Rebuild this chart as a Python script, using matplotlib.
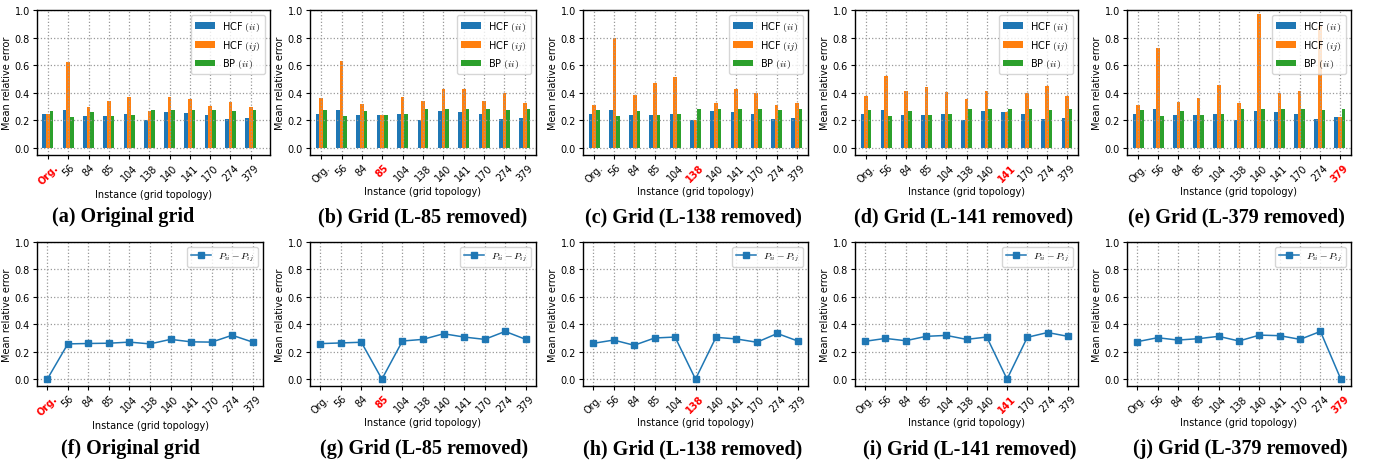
import matplotlib
matplotlib.use("Agg")
import matplotlib.pyplot as plt
import numpy as np

plt.rcParams['mathtext.fontset'] = 'cm'
plt.rcParams['font.family'] = ['DejaVu Sans']

categories = ["Org.", "56", "84", "85", "104", "138", "140", "141", "170", "274", "379"]

# Top row: bar panels (HCF ii, HCF ij, BP ii)
hcf_ii_a = [0.249, 0.278, 0.235, 0.235, 0.25, 0.206, 0.264, 0.257, 0.242, 0.213, 0.22]
hcf_ij_a = [0.25, 0.627, 0.298, 0.344, 0.37, 0.271, 0.37, 0.358, 0.307, 0.337, 0.298]
bp_ii_a = [0.271, 0.228, 0.264, 0.235, 0.24, 0.278, 0.278, 0.278, 0.278, 0.271, 0.278]

hcf_ii_b = [0.244, 0.273, 0.237, 0.237, 0.244, 0.201, 0.266, 0.258, 0.244, 0.208, 0.215]
hcf_ij_b = [0.366, 0.632, 0.316, 0.237, 0.373, 0.344, 0.43, 0.43, 0.344, 0.40, 0.323]
bp_ii_b = [0.273, 0.23, 0.266, 0.237, 0.244, 0.28, 0.28, 0.28, 0.28, 0.273, 0.28]

hcf_ii_c = [0.244, 0.273, 0.237, 0.237, 0.244, 0.201, 0.266, 0.258, 0.244, 0.208, 0.215]
hcf_ij_c = [0.309, 0.80, 0.388, 0.474, 0.517, 0.201, 0.33, 0.43, 0.40, 0.309, 0.323]
bp_ii_c = [0.273, 0.23, 0.266, 0.237, 0.244, 0.28, 0.28, 0.28, 0.28, 0.273, 0.28]

hcf_ii_d = [0.244, 0.273, 0.237, 0.237, 0.244, 0.201, 0.266, 0.258, 0.244, 0.208, 0.215]
hcf_ij_d = [0.38, 0.524, 0.416, 0.445, 0.409, 0.359, 0.416, 0.258, 0.40, 0.452, 0.38]
bp_ii_d = [0.273, 0.23, 0.266, 0.237, 0.244, 0.28, 0.28, 0.28, 0.28, 0.273, 0.28]

hcf_ii_e = [0.25, 0.28, 0.237, 0.237, 0.25, 0.201, 0.266, 0.258, 0.244, 0.208, 0.222]
hcf_ij_e = [0.309, 0.725, 0.335, 0.366, 0.459, 0.323, 0.974, 0.40, 0.416, 0.885, 0.222]
bp_ii_e = [0.273, 0.23, 0.266, 0.237, 0.244, 0.28, 0.28, 0.28, 0.28, 0.273, 0.28]

# Bottom row: line panels (P_ii - P_ij)
diff_f = [0.0, 0.257, 0.26, 0.262, 0.27, 0.257, 0.29, 0.272, 0.27, 0.32, 0.27]
diff_g = [0.259, 0.264, 0.269, 0.0, 0.278, 0.29, 0.331, 0.307, 0.29, 0.348, 0.29]
diff_h = [0.261, 0.285, 0.247, 0.30, 0.307, 0.0, 0.305, 0.293, 0.269, 0.333, 0.278]
diff_i = [0.276, 0.297, 0.28, 0.312, 0.319, 0.29, 0.307, 0.0, 0.305, 0.34, 0.312]
diff_j = [0.273, 0.302, 0.285, 0.295, 0.312, 0.278, 0.321, 0.317, 0.29, 0.348, 0.0]

bar_sets = [
    (hcf_ii_a, hcf_ij_a, bp_ii_a, "Org.", "(a) Original grid"),
    (hcf_ii_b, hcf_ij_b, bp_ii_b, "85", "(b) Grid (L-85 removed)"),
    (hcf_ii_c, hcf_ij_c, bp_ii_c, "138", "(c) Grid (L-138 removed)"),
    (hcf_ii_d, hcf_ij_d, bp_ii_d, "141", "(d) Grid (L-141 removed)"),
    (hcf_ii_e, hcf_ij_e, bp_ii_e, "379", "(e) Grid (L-379 removed)"),
]
line_sets = [
    (diff_f, "Org.", "(f) Original grid"),
    (diff_g, "85", "(g) Grid (L-85 removed)"),
    (diff_h, "138", "(h) Grid (L-138 removed)"),
    (diff_i, "141", "(i) Grid (L-141 removed)"),
    (diff_j, "379", "(j) Grid (L-379 removed)"),
]

W, H = 1377, 464
fig = plt.figure(figsize=(W / 100, H / 100), dpi=100)

top_lr = [(37, 270), (310, 536), (583, 808), (855, 1078), (1127, 1351)]
bot_lr = [(37, 263), (310, 536), (583, 808), (855, 1078), (1127, 1351)]
top_tb = (11, 156)
bot_tb = (243, 387)
top_xlim = [(-0.54, 10.95), (-0.55, 10.55), (-0.55, 10.55), (-0.55, 10.55), (-0.55, 10.55)]
cap_top_x = [123, 423, 693, 964, 1236]
cap_bot_x = [130, 424, 693, 970, 1240]

FS = 7
colors = ['#1f77b4', '#ff7f0e', '#2ca02c']


def make_ax(lr, tb):
    l, r = lr
    t, b = tb
    return fig.add_axes([l / W, 1 - b / H, (r - l) / W, (b - t) / H])


def style_ax(ax, highlight):
    x = np.arange(len(categories))
    ax.set_xticks(x)
    ax.set_xticklabels(categories, rotation=45, fontsize=FS)
    for lab in ax.get_xticklabels():
        if lab.get_text() == highlight:
            lab.set_color('red')
            lab.set_fontweight('bold')
    ax.set_ylim(-0.05, 1.0)
    ax.set_yticks([0.0, 0.2, 0.4, 0.6, 0.8, 1.0])
    ax.set_yticklabels(["0.0", "0.2", "0.4", "0.6", "0.8", "1.0"], fontsize=FS)
    ax.tick_params(length=3, width=0.8, pad=2)
    ax.grid(True, linestyle=':', linewidth=0.9, color='#999999')
    ax.set_ylabel("Mean relative error", fontsize=FS, labelpad=2)
    ax.set_xlabel("Instance (grid topology)", fontsize=FS, labelpad=2)
    for s in ax.spines.values():
        s.set_linewidth(1.0)


w = 0.18
for i, (ii, ij, bp, hl, cap) in enumerate(bar_sets):
    ax = make_ax(top_lr[i], top_tb)
    x = np.arange(len(categories))
    ax.bar(x - w, ii, width=w, color=colors[0], label=r"HCF $(ii)$")
    ax.bar(x, ij, width=w, color=colors[1], label=r"HCF $(ij)$")
    ax.bar(x + w, bp, width=w, color=colors[2], label=r"BP $(ii)$")
    style_ax(ax, hl)
    ax.set_xlim(*top_xlim[i])
    ax.legend(loc='upper right', fontsize=FS, framealpha=0.8)
    fig.text(cap_top_x[i] / W, 1 - 217 / H, cap, ha='center', va='center',
             fontsize=14.5, fontweight='bold', family='Liberation Serif')

for i, (d, hl, cap) in enumerate(line_sets):
    ax = make_ax(bot_lr[i], bot_tb)
    x = np.arange(len(categories))
    ax.plot(x, d, marker='s', markersize=4, linewidth=1.1, color=colors[0],
            label=r"$P_{ii} - P_{ij}$")
    style_ax(ax, hl)
    ax.set_xlim(-0.5, 10.5)
    ax.legend(loc='upper right', fontsize=FS, framealpha=0.8)
    fig.text(cap_bot_x[i] / W, 1 - 449 / H, cap, ha='center', va='center',
             fontsize=14.5, fontweight='bold', family='Liberation Serif')

fig.savefig("out.png", dpi=100)
